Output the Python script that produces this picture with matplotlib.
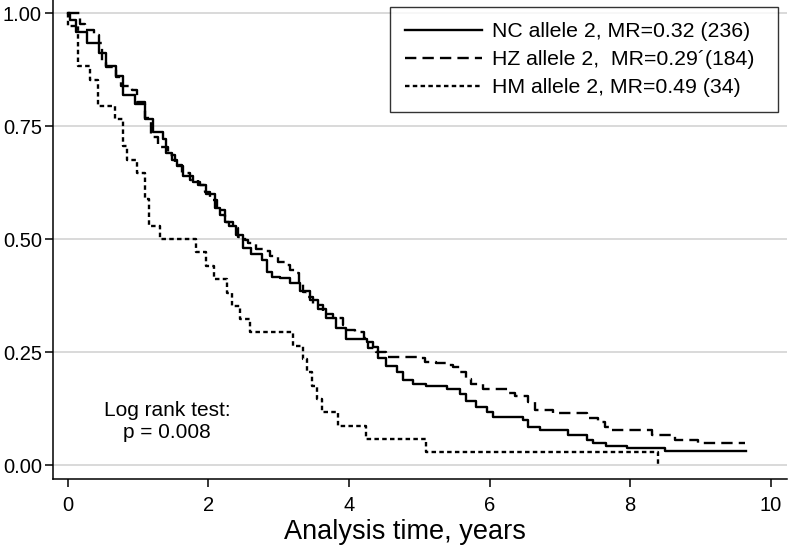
import matplotlib
matplotlib.use("Agg")
import matplotlib.pyplot as plt

plt.rcParams['font.family'] = ['Liberation Sans', 'DejaVu Sans']

# Kaplan-Meier step data (time, survival after step)
nc_time = [0, 0.03, 0.12, 0.27, 0.44, 0.55, 0.69, 0.79, 0.95, 1.10, 1.21, 1.36, 1.40, 1.48,
           1.55, 1.64, 1.78, 1.88, 1.97, 2.09, 2.16, 2.23, 2.30, 2.40, 2.49, 2.61, 2.76, 2.84,
           2.90, 3.02, 3.16, 3.30, 3.44, 3.56, 3.68, 3.82, 3.96, 4.25, 4.34, 4.41, 4.53, 4.68,
           4.77, 4.91, 5.10, 5.39, 5.58, 5.67, 5.81, 5.96, 6.05, 6.48, 6.55, 6.71, 7.12, 7.38,
           7.47, 7.66, 7.95, 8.50, 9.64]
nc_surv = [1.0, 0.985, 0.959, 0.934, 0.911, 0.882, 0.860, 0.819, 0.800, 0.765, 0.738, 0.722,
           0.690, 0.675, 0.661, 0.639, 0.627, 0.620, 0.600, 0.569, 0.554, 0.539, 0.530, 0.509,
           0.480, 0.468, 0.455, 0.428, 0.417, 0.414, 0.403, 0.386, 0.366, 0.345, 0.325, 0.303,
           0.279, 0.273, 0.262, 0.238, 0.220, 0.207, 0.189, 0.181, 0.175, 0.169, 0.159, 0.142,
           0.130, 0.119, 0.107, 0.100, 0.085, 0.078, 0.067, 0.056, 0.049, 0.043, 0.038, 0.032,
           0.032]

hz_time = [0, 0.17, 0.24, 0.38, 0.44, 0.48, 0.55, 0.69, 0.76, 0.91, 0.98, 1.10, 1.19, 1.28,
           1.43, 1.52, 1.62, 1.74, 1.85, 1.95, 2.02, 2.12, 2.23, 2.35, 2.42, 2.52, 2.56, 2.68,
           2.78, 2.87, 2.99, 3.09, 3.16, 3.23, 3.29, 3.35, 3.40, 3.49, 3.63, 3.77, 3.92, 3.96,
           4.08, 4.22, 4.27, 4.39, 4.53, 5.00, 5.08, 5.24, 5.39, 5.48, 5.58, 5.67, 5.74, 5.91,
           6.26, 6.36, 6.55, 6.64, 6.90, 7.38, 7.54, 7.64, 7.72, 8.31, 8.64, 8.96, 9.63]
hz_surv = [1.0, 0.975, 0.963, 0.952, 0.934, 0.893, 0.880, 0.858, 0.838, 0.830, 0.804, 0.768,
           0.727, 0.705, 0.687, 0.664, 0.646, 0.631, 0.620, 0.605, 0.587, 0.565, 0.539, 0.524,
           0.506, 0.499, 0.491, 0.478, 0.475, 0.463, 0.450, 0.443, 0.432, 0.425, 0.403, 0.384,
           0.373, 0.355, 0.335, 0.325, 0.310, 0.300, 0.294, 0.281, 0.259, 0.251, 0.240, 0.237,
           0.229, 0.226, 0.222, 0.217, 0.207, 0.192, 0.181, 0.170, 0.160, 0.153, 0.141, 0.122,
           0.115, 0.104, 0.096, 0.085, 0.078, 0.067, 0.056, 0.050, 0.050]

hm_time = [0, 0.01, 0.15, 0.31, 0.43, 0.67, 0.78, 0.84, 0.99, 1.10, 1.16, 1.31, 1.83, 1.97,
           2.08, 2.26, 2.33, 2.45, 2.59, 3.20, 3.35, 3.40, 3.48, 3.54, 3.62, 3.85, 4.24, 5.09,
           8.40]
hm_surv = [1.0, 0.971, 0.882, 0.853, 0.794, 0.765, 0.706, 0.676, 0.647, 0.588, 0.529, 0.500,
           0.471, 0.441, 0.412, 0.382, 0.353, 0.324, 0.294, 0.265, 0.235, 0.206, 0.176, 0.147,
           0.118, 0.088, 0.059, 0.029, 0.0]

labels = ["NC allele 2, MR=0.32 (236)",
          "HZ allele 2,  MR=0.29\u00b4(184)",
          "HM allele 2, MR=0.49 (34)"]
x_ticks = [0, 2, 4, 6, 8, 10]
y_ticks = [0.00, 0.25, 0.50, 0.75, 1.00]

fig = plt.figure(figsize=(7.89, 5.52), dpi=100)
ax = fig.add_axes([53 / 789, 1 - 479 / 552, (787 - 53) / 789, 479 / 552])

lw = 1.7
ax.step(nc_time, nc_surv, where='post', color='black', lw=lw, label=labels[0])
ax.step(hz_time, hz_surv, where='post', color='black', lw=lw, dashes=(4.8, 2.6), label=labels[1])
ax.step(hm_time, hm_surv, where='post', color='black', lw=lw, dashes=(1.9, 1.4), label=labels[2])

for y in y_ticks:
    ax.axhline(y, color='#d0d0d0', lw=1.1, zorder=0)

ax.set_xlim(-0.21, 10.23)
ax.set_ylim(-0.030, 1.029)
ax.set_xticks(x_ticks)
ax.set_xticklabels([str(v) for v in x_ticks])
ax.set_yticks(y_ticks)
ax.set_yticklabels([f"{v:.2f}" for v in y_ticks])
ax.tick_params(axis='both', direction='out', length=6, width=1.1, labelsize=14.5, color='black')
ax.tick_params(axis='x', pad=6)
ax.tick_params(axis='y', pad=2)

for s in ['top', 'right']:
    ax.spines[s].set_visible(False)
for s in ['left', 'bottom']:
    ax.spines[s].set_linewidth(1.1)

ax.set_xlabel("Analysis time, years", fontsize=19.5)
ax.xaxis.set_label_coords(0.48, -0.083)

ax.text(1.41, 0.098, "Log rank test:\np = 0.008", ha='center', va='center',
        fontsize=15, multialignment='center', linespacing=1.2)

leg_x0, leg_x1 = 390 / 789, 778 / 789
leg_y1, leg_y0 = 1 - 7 / 552, 1 - 108 / 552
leg = ax.legend(loc='upper left', bbox_to_anchor=(leg_x0, leg_y0, leg_x1 - leg_x0, leg_y1 - leg_y0),
                bbox_transform=fig.transFigure, mode='expand', fontsize=15.3, frameon=True,
                fancybox=False, handlelength=3.6, handletextpad=0.5,
                labelspacing=0.42, borderpad=0.72, borderaxespad=0)
leg.get_frame().set_edgecolor('black')
leg.get_frame().set_linewidth(1.0)

fig.savefig("out.png", dpi=100)
